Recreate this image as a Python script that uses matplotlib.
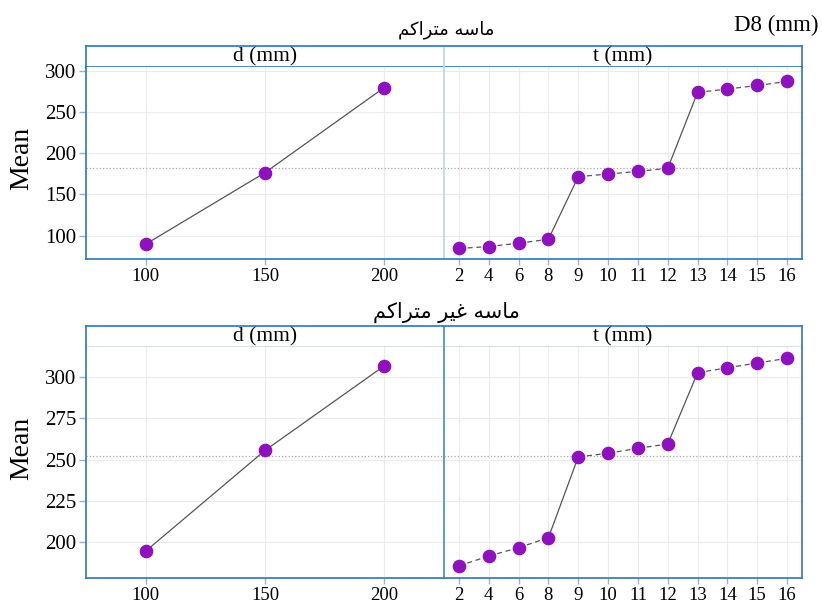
import numpy as np
import matplotlib
matplotlib.use('Agg')
import matplotlib.pyplot as plt

# ---------------- data ----------------
d_labels = ['100', '150', '200']
t_labels = ['2', '4', '6', '8', '9', '10', '11', '12', '13', '14', '15', '16']
dense_d = [89.5, 176.3, 279.5]
dense_t = [84.3, 86.7, 90.7, 95.5, 171.4, 174.6, 177.8, 181.5, 273.6, 277.6, 282.0, 286.8]
loose_d = [194.5, 255.5, 306.8]
loose_t = [185.6, 191.5, 196.6, 202.6, 251.6, 253.8, 256.8, 259.4, 302.6, 305.6, 308.5, 311.3]
dense_yticks = [100, 150, 200, 250, 300]
loose_yticks = [200, 225, 250, 275, 300]
title_dense = 'ماسه متراکم'
title_loose = 'ماسه غیر متراکم'
panel_titles = ['d (mm)', 't (mm)']
corner_label = 'D8 (mm)'
ylabel = 'Mean'

# ------------- simple Arabic/Persian shaping (no external libs) -------------
FORMS = {
    'م': ('\uFEE1', '\uFEE2', '\uFEE3', '\uFEE4'),
    'ا': ('\uFE8D', '\uFE8E', None, None),
    'س': ('\uFEB1', '\uFEB2', '\uFEB3', '\uFEB4'),
    'ه': ('\uFEE9', '\uFEEA', '\uFEEB', '\uFEEC'),
    'ت': ('\uFE95', '\uFE96', '\uFE97', '\uFE98'),
    'ر': ('\uFEAD', '\uFEAE', None, None),
    'ک': ('\uFB8E', '\uFB8F', '\uFB90', '\uFB91'),
    'غ': ('\uFECD', '\uFECE', '\uFECF', '\uFED0'),
    'ی': ('\uFBFC', '\uFBFD', '\uFBFE', '\uFBFF'),
}


def dual(c):
    return c in FORMS and FORMS[c][2] is not None


def shape(s):
    out = []
    for i, c in enumerate(s):
        if c not in FORMS:
            out.append(c)
            continue
        prev = s[i - 1] if i > 0 else ''
        nxt = s[i + 1] if i + 1 < len(s) else ''
        cp = dual(prev)
        cn = dual(c) and (nxt in FORMS)
        f = FORMS[c]
        if cp and cn:
            out.append(f[3])
        elif cp:
            out.append(f[1])
        elif cn:
            out.append(f[2])
        else:
            out.append(f[0])
    return ''.join(out)[::-1]


# ---------------- styling ----------------
W, H = 822, 603
SERIF = 'Liberation Serif'
BLUE = '#2e75b6'
LIGHTBLUE = '#c6d9ee'
MIDBLUE = '#5b9bd5'
TICKBLUE = '#8db3e2'
PURPLE = '#8e10be'
LINE = '#555555'

fig = plt.figure(figsize=(W / 100, H / 100), dpi=100)


def fx(x):
    return x / W


def fy(y):
    return 1 - y / H


X0, XD, X1 = 86, 444, 802

rows = [
    dict(top=46, head=67.3, bot=259.3, ylim=(71.2, 304), yticks=dense_yticks,
         d=dense_d, t=dense_t, title=title_dense, ty=30, tx=446, tsize=13,
         headline=BLUE, divider=LIGHTBLUE, ylab_y=158),
    dict(top=326, head=347.3, bot=577.7, ylim=(178.4, 318), yticks=loose_yticks,
         d=loose_d, t=loose_t, title=title_loose, ty=312, tx=446, tsize=15,
         headline=LIGHTBLUE, divider=MIDBLUE, ylab_y=448),
]


def draw_series(ax, vals):
    x = np.arange(len(vals))
    for i in range(len(vals) - 1):
        steep = abs(vals[i + 1] - vals[i]) > 30
        ls = '-' if steep else (0, (4, 3))
        ax.plot([x[i], x[i + 1]], [vals[i], vals[i + 1]], color=LINE, lw=0.9,
                ls=ls, zorder=2)
    ax.plot(x, vals, 'o', ms=8.8, color=PURPLE, mec=PURPLE, zorder=3)


for r in rows:
    # header strip
    hax = fig.add_axes([fx(X0), fy(r['head']), fx(X1 - X0), (r['head'] - r['top']) / H])
    hax.set_xlim(0, 1)
    hax.set_ylim(0, 1)
    hax.set_xticks([])
    hax.set_yticks([])
    for s in ['top', 'left', 'right']:
        hax.spines[s].set_color(BLUE)
        hax.spines[s].set_linewidth(1.2)
    hax.spines['bottom'].set_color(r['headline'])
    hax.spines['bottom'].set_linewidth(1.2)
    xdiv = (XD - X0) / (X1 - X0)
    hax.axvline(xdiv, color=r['divider'], lw=1.4)
    hax.text(xdiv / 2, 0.5, panel_titles[0], ha='center', va='center',
             family=SERIF, fontsize=15.5)
    hax.text((1 + xdiv) / 2, 0.5, panel_titles[1], ha='center', va='center',
             family=SERIF, fontsize=15.5)

    grand = (np.mean(r['d']) + np.mean(r['t'])) / 2
    b = fy(r['bot'])
    h = (r['bot'] - r['head']) / H
    axd = fig.add_axes([fx(X0), b, fx(XD - X0), h])
    axt = fig.add_axes([fx(XD), b, fx(X1 - XD), h])
    for ax, vals, labels in [(axd, r['d'], d_labels), (axt, r['t'], t_labels)]:
        ax.set_xlim(-0.5, len(vals) - 0.5)
        ax.set_ylim(*r['ylim'])
        ax.set_xticks(np.arange(len(vals)))
        ax.set_xticklabels(labels, family=SERIF, fontsize=13.5)
        ax.set_yticks(r['yticks'])
        ax.set_axisbelow(True)
        ax.grid(True, color='#ececec', lw=0.8)
        ax.axhline(grand, color='#a8a8a8', lw=0.9, ls=':', zorder=1.5)
        draw_series(ax, vals)
        ax.tick_params(axis='x', length=4, color=TICKBLUE, width=1, pad=2.5)
        ax.spines['top'].set_visible(False)
        ax.spines['bottom'].set_color(BLUE)
        ax.spines['bottom'].set_linewidth(1.2)
    axd.set_yticklabels([str(v) for v in r['yticks']], family=SERIF, fontsize=15)
    axd.tick_params(axis='y', length=5, color=TICKBLUE, width=1, pad=2)
    axd.spines['left'].set_color(BLUE)
    axd.spines['left'].set_linewidth(1.2)
    axd.spines['right'].set_visible(False)
    axt.tick_params(axis='y', left=False, labelleft=False)
    axt.spines['left'].set_color(r['divider'])
    axt.spines['left'].set_linewidth(1.4)
    axt.spines['right'].set_color(BLUE)
    axt.spines['right'].set_linewidth(1.2)

    fig.text(fx(r['tx']), fy(r['ty']), shape(r['title']), ha='center', va='center',
             family=['DejaVu Sans'], fontsize=r['tsize'])
    fig.text(fx(22), fy(r['ylab_y']), ylabel, rotation=90, ha='center', va='center',
             family=SERIF, fontsize=20)

fig.text(fx(818), fy(25), corner_label, ha='right', va='center', family=SERIF,
         fontsize=16.5)

fig.savefig('out.png', dpi=100)
